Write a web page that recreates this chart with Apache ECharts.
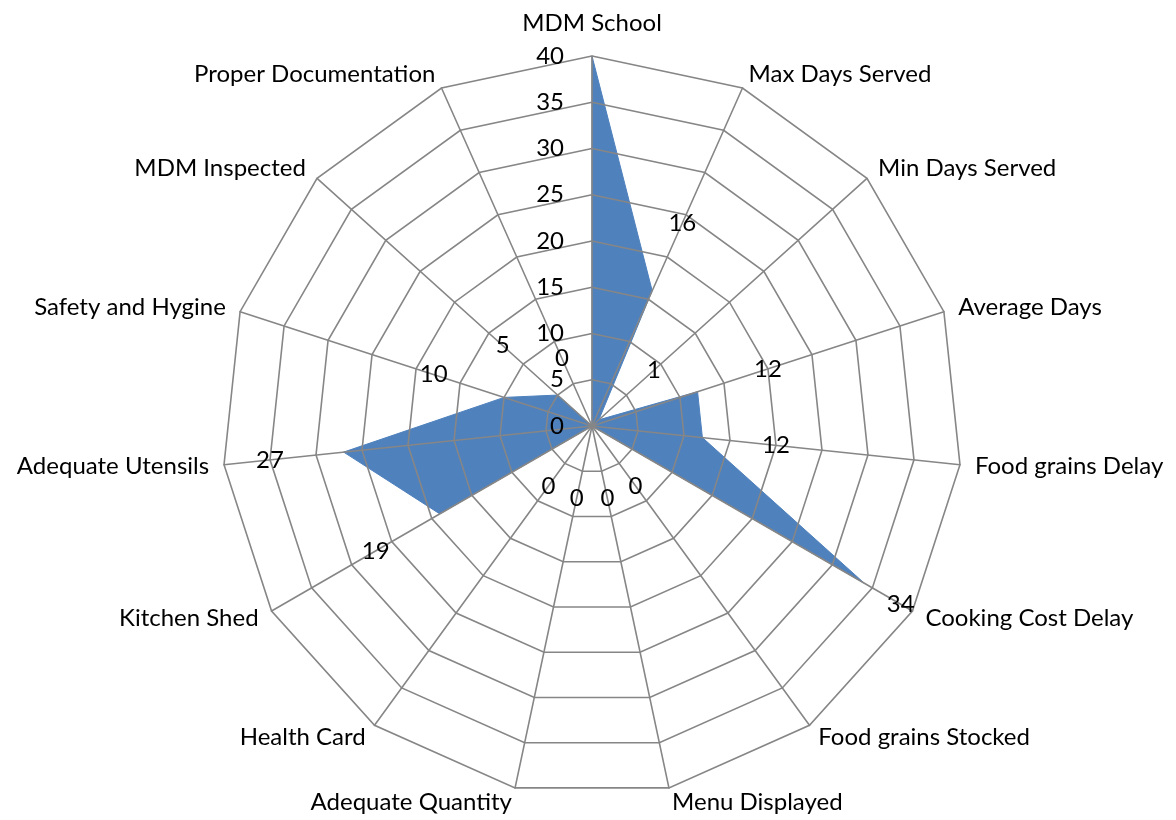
<!DOCTYPE html>
<html>
<head>
<meta charset="utf-8">
<script src="https://cdn.jsdelivr.net/npm/echarts@6/dist/echarts.min.js"></script>
<style>
html, body { margin: 0; padding: 0; background: #fff; }
#chart { width: 1176px; height: 820px; }
</style>
</head>
<body>
<div id="chart"></div>
<script>
// spokes, clockwise from the top
const indicators = [
	"MDM School", "Max Days Served", "Min Days Served", "Average Days",
	"Food grains Delay", "Cooking Cost Delay", "Food grains Stocked",
	"Menu Displayed", "Adequate Quantity", "Health Card", "Kitchen Shed",
	"Adequate Utensils", "Safety and Hygine", "MDM Inspected", "Proper Documentation"
];
const values = [40, 16, 1, 12, 12, 34, 0, 0, 0, 0, 19, 27, 10, 5, 0];
const axisMax = 40;
const axisSplits = 8;

const font = "Lato, sans-serif";
const fontSize = 24;
const gray = "#868686";
const blue = "#4f81bd";
const labelGap = 74;

// echarts lays radar spokes out counter-clockwise, so feed them in reverse
const order = [0];
for (let i = indicators.length - 1; i > 0; i--) order.push(i);

const indicatorOpts = order.map((k, n) => ({
	name: indicators[k],
	min: 0,
	max: axisMax,
	axisLabel: { show: n === 0 }
}));
indicatorOpts[0].nameGap = 21;

const ordered = order.map(k => values[k]);

// one invisible copy per spoke, so each value label can sit out along its spoke
const labelItems = order.map((k, n) => {
	const a = k * 2 * Math.PI / indicators.length;
	const gap = k === 5 ? 42 : labelGap;
	return {
		value: ordered.map((v, j) => (j === n ? v : "-")),
		symbol: "circle",
		symbolSize: 0,
		itemStyle: { color: "rgba(0,0,0,0)" },
		lineStyle: { width: 0, opacity: 0 },
		label: {
			show: true,
			position: "inside",
			offset: [gap * Math.sin(a), -gap * Math.cos(a)],
			color: "#000",
			fontSize: fontSize,
			fontFamily: font
		}
	};
});

const chart = echarts.init(document.getElementById("chart"));
chart.setOption({
	animation: false,
	radar: {
		z: 3,
		center: [592, 426],
		radius: 370,
		shape: "polygon",
		splitNumber: axisSplits,
		axisNameGap: 15,
		indicator: indicatorOpts,
		axisName: {
			color: "#000",
			fontSize: fontSize,
			fontFamily: font
		},
		axisLine: { lineStyle: { color: gray, width: 1.6 } },
		splitLine: { lineStyle: { color: gray, width: 1.6 } },
		splitArea: { show: false },
		axisTick: { show: false },
		axisLabel: {
			show: false,
			color: "#000",
			fontSize: fontSize,
			fontFamily: font,
			margin: 28
		}
	},
	series: [
		{
			type: "radar",
			z: 2,
			symbol: "none",
			lineStyle: { color: blue, width: 1 },
			areaStyle: { color: blue, opacity: 1 },
			data: [{ value: ordered }]
		},
		{
			type: "radar",
			z: 4,
			silent: true,
			data: labelItems
		}
	]
});
</script>
</body>
</html>
